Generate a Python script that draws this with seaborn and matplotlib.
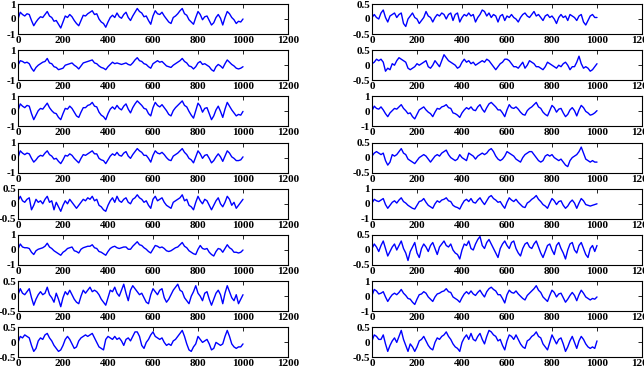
import numpy as np
import matplotlib
matplotlib.use('Agg')
import matplotlib.pyplot as plt
import seaborn as sns

# ── Data (one sample every 10 steps) ──────────────────────────────────────────
left_1 = [0.00, 0.45, 0.30, 0.20, 0.35, 0.30, -0.10, -0.45, -0.20, 0.00,
          0.15, 0.10, 0.30, 0.50, 0.20, 0.10, -0.15, -0.10, -0.35, -0.60,
          -0.20, 0.20, 0.10, 0.30, 0.15, -0.10, -0.30, -0.45, -0.10, 0.25,
          0.20, 0.35, 0.45, 0.55, 0.30, 0.35, 0.00, -0.20, -0.30, -0.55,
          -0.20, 0.10, 0.25, 0.10, 0.40, 0.15, 0.05, 0.30, 0.45, 0.10,
          -0.10, 0.20, 0.45, 0.70, 0.50, 0.40, 0.15, 0.20, -0.10, -0.35,
          0.20, 0.55, 0.35, 0.30, 0.45, 0.20, 0.00, -0.20, -0.30, 0.10,
          0.20, 0.35, 0.55, 0.70, 0.35, 0.25, -0.05, -0.20, -0.35, 0.10,
          0.50, 0.30, -0.05, 0.15, 0.20, -0.10, -0.40, -0.25, 0.10, 0.30,
          0.05, -0.40, 0.10, 0.50, 0.35, 0.10, -0.05, -0.30, -0.15, -0.20,
          0.00]
left_2 = [0.00, 0.30, 0.25, 0.15, 0.20, 0.10, -0.20, -0.40, -0.15, 0.00,
          0.10, 0.20, 0.25, 0.45, 0.15, 0.10, -0.10, -0.15, -0.30, -0.25,
          -0.20, 0.00, 0.05, 0.10, 0.15, 0.00, -0.10, -0.25, -0.05, 0.15,
          0.20, 0.25, 0.30, 0.35, 0.15, 0.10, -0.05, -0.15, -0.20, -0.30,
          -0.10, 0.05, 0.20, 0.10, 0.15, 0.10, 0.05, 0.10, 0.15, 0.05,
          0.00, 0.15, 0.35, 0.50, 0.30, 0.25, 0.10, 0.05, -0.10, -0.20,
          0.10, 0.20, 0.30, 0.20, 0.25, 0.10, -0.05, -0.10, -0.15, 0.00,
          0.10, 0.20, 0.30, 0.45, 0.25, 0.15, -0.05, -0.10, -0.25, -0.10,
          0.15, 0.25, 0.05, 0.10, 0.00, -0.10, -0.30, -0.40, -0.10, 0.05,
          -0.05, -0.20, 0.10, 0.35, 0.20, 0.05, -0.05, -0.20, -0.25, -0.20,
          -0.10]
left_3 = [0.05, 0.50, 0.35, 0.25, 0.40, 0.35, -0.15, -0.55, -0.25, 0.05,
          0.20, 0.15, 0.35, 0.55, 0.25, 0.05, -0.10, -0.15, -0.40, -0.55,
          -0.15, 0.20, 0.15, 0.35, 0.20, -0.05, -0.30, -0.40, -0.05, 0.25,
          0.25, 0.40, 0.45, 0.60, 0.35, 0.30, -0.05, -0.25, -0.35, -0.55,
          -0.15, 0.15, 0.30, 0.15, 0.40, 0.20, 0.10, 0.35, 0.50, 0.15,
          -0.10, 0.25, 0.50, 0.70, 0.55, 0.40, 0.20, 0.15, -0.15, -0.30,
          0.25, 0.60, 0.40, 0.30, 0.45, 0.25, 0.05, -0.20, -0.30, 0.05,
          0.25, 0.40, 0.55, 0.70, 0.40, 0.30, 0.00, -0.25, -0.45, 0.05,
          0.55, 0.35, -0.05, 0.20, 0.25, -0.15, -0.55, -0.30, 0.10, 0.35,
          0.00, -0.40, 0.15, 0.60, 0.35, 0.10, -0.10, -0.30, -0.20, -0.25,
          0.00]
left_4 = [0.00, 0.45, 0.30, 0.20, 0.30, 0.25, -0.05, -0.30, -0.15, 0.05,
          0.15, 0.10, 0.30, 0.45, 0.20, 0.10, -0.10, -0.05, -0.25, -0.40,
          -0.15, 0.15, 0.10, 0.25, 0.15, -0.05, -0.20, -0.35, -0.05, 0.20,
          0.15, 0.25, 0.35, 0.45, 0.25, 0.25, -0.05, -0.15, -0.20, -0.40,
          -0.15, 0.10, 0.25, 0.15, 0.35, 0.15, 0.10, 0.30, 0.40, 0.10,
          -0.05, 0.20, 0.40, 0.60, 0.45, 0.35, 0.15, 0.15, -0.05, -0.30,
          0.15, 0.45, 0.30, 0.25, 0.35, 0.20, 0.00, -0.15, -0.20, 0.10,
          0.20, 0.30, 0.45, 0.60, 0.35, 0.20, -0.05, -0.15, -0.35, 0.05,
          0.45, 0.25, -0.05, 0.15, 0.20, -0.05, -0.35, -0.20, 0.05, 0.25,
          0.05, -0.25, 0.10, 0.45, 0.30, 0.05, -0.05, -0.20, -0.20, -0.15,
          0.05]
left_5 = [0.10, 0.25, 0.10, 0.05, 0.15, 0.20, -0.20, -0.05, 0.15, 0.05,
          0.10, 0.00, 0.15, 0.25, 0.05, 0.10, -0.20, 0.05, -0.10, -0.25,
          -0.05, 0.10, 0.00, 0.15, 0.05, -0.05, -0.15, -0.05, 0.05, 0.15,
          0.10, 0.20, 0.15, 0.25, 0.10, 0.15, -0.05, -0.10, -0.20, -0.25,
          -0.05, 0.10, 0.20, 0.05, 0.25, 0.10, 0.05, 0.15, 0.20, 0.05,
          0.00, 0.15, 0.20, 0.30, 0.20, 0.15, 0.05, 0.10, -0.05, -0.15,
          0.15, 0.25, 0.10, 0.15, 0.20, 0.05, -0.05, -0.10, -0.15, 0.05,
          0.10, 0.15, 0.20, 0.30, 0.10, 0.15, -0.05, -0.10, -0.20, 0.05,
          0.25, 0.10, 0.00, 0.15, 0.10, -0.05, -0.20, -0.05, 0.10, 0.20,
          0.00, -0.10, 0.05, 0.25, 0.15, -0.05, 0.05, -0.15, -0.05, 0.05,
          0.15]
left_6 = [0.05, 0.40, 0.20, 0.15, 0.15, 0.10, -0.15, -0.30, -0.05, 0.05,
          0.10, 0.15, 0.25, 0.45, 0.20, 0.10, -0.05, -0.15, -0.25, -0.35,
          -0.15, -0.05, 0.10, 0.15, 0.20, -0.05, -0.10, -0.20, 0.05, 0.15,
          0.20, 0.25, 0.25, 0.35, 0.15, 0.10, -0.10, -0.15, -0.25, -0.35,
          -0.10, 0.10, 0.20, 0.25, 0.15, 0.10, 0.15, 0.20, 0.20, 0.05,
          0.05, 0.25, 0.40, 0.55, 0.35, 0.30, 0.15, 0.05, -0.10, -0.20,
          0.05, 0.30, 0.25, 0.15, 0.20, 0.10, -0.05, -0.10, -0.05, 0.05,
          0.15, 0.20, 0.35, 0.50, 0.25, 0.15, -0.05, -0.15, -0.25, -0.30,
          0.05, 0.30, 0.10, 0.05, 0.10, -0.15, -0.30, -0.40, -0.10, 0.10,
          0.05, -0.15, 0.10, 0.35, 0.15, 0.05, -0.15, -0.15, -0.20, -0.15,
          0.00]
left_7 = [0.05, 0.25, 0.10, 0.05, 0.15, 0.25, -0.05, -0.30, -0.10, 0.05,
          0.15, 0.05, 0.10, 0.30, 0.05, -0.05, -0.20, 0.10, -0.10, -0.35,
          -0.05, 0.15, 0.05, 0.20, 0.05, -0.10, -0.20, -0.25, 0.00, 0.20,
          0.10, 0.20, 0.30, 0.15, 0.20, 0.15, 0.05, -0.10, -0.20, -0.30,
          -0.05, 0.20, 0.15, 0.30, 0.10, 0.00, 0.20, 0.40, 0.10, -0.15,
          0.20, 0.35, 0.25, 0.15, 0.05, 0.10, -0.05, -0.20, -0.25, 0.05,
          0.25, 0.15, 0.05, 0.20, 0.25, -0.05, -0.20, -0.10, 0.05, 0.20,
          0.30, 0.40, 0.20, 0.15, -0.05, -0.15, -0.25, 0.00, 0.15, 0.35,
          0.10, 0.00, -0.15, 0.10, 0.15, -0.10, -0.30, -0.10, 0.10, 0.20,
          0.05, -0.25, 0.10, 0.35, 0.15, -0.05, -0.15, 0.05, -0.25, -0.10,
          0.05]
left_8 = [0.00, 0.20, 0.15, 0.25, 0.20, 0.15, -0.10, -0.30, -0.20, 0.05,
          0.15, 0.10, 0.25, 0.30, 0.15, 0.05, -0.10, -0.20, -0.30, -0.25,
          -0.10, 0.10, 0.20, 0.10, -0.05, -0.20, -0.15, 0.05, 0.15, 0.20,
          0.25, 0.20, 0.25, 0.30, 0.15, 0.00, -0.15, -0.20, -0.25, 0.10,
          0.20, 0.15, 0.10, 0.20, 0.10, 0.15, 0.05, -0.10, 0.10, 0.15,
          0.05, 0.20, 0.35, 0.35, 0.20, -0.10, -0.20, 0.00, 0.10, 0.25,
          0.35, 0.20, 0.15, 0.10, 0.15, 0.00, -0.10, -0.05, -0.10, 0.05,
          0.10, 0.20, 0.30, 0.40, 0.20, -0.05, -0.25, -0.30, -0.15, -0.05,
          0.20, 0.10, 0.00, 0.05, 0.10, -0.05, -0.25, -0.20, 0.00, -0.05,
          -0.10, -0.05, 0.20, 0.40, 0.20, -0.05, -0.15, -0.20, -0.15, -0.15,
          -0.05]

right_1 = [0.05, 0.15, 0.05, 0.00, 0.20, 0.30, 0.05, -0.10, 0.10, 0.15,
           0.20, 0.05, 0.15, 0.20, -0.15, -0.25, 0.00, 0.10, 0.20, 0.05,
           0.00, -0.15, -0.05, 0.05, 0.25, 0.10, 0.05, -0.10, 0.05, 0.15,
           0.10, 0.20, 0.15, 0.00, 0.15, 0.20, -0.05, 0.15, 0.20, -0.10,
           0.05, 0.15, 0.10, 0.20, 0.10, 0.15, -0.10, 0.05, 0.15, 0.30,
           0.25, 0.10, 0.20, 0.05, 0.15, 0.10, -0.10, 0.10, 0.15, -0.05,
           0.10, 0.05, 0.15, 0.05, 0.00, -0.10, 0.05, 0.15, 0.20, 0.10,
           0.05, 0.15, 0.25, 0.10, 0.15, 0.05, -0.05, 0.10, 0.15, 0.05,
           0.10, 0.00, -0.15, 0.05, 0.15, 0.05, 0.10, -0.05, 0.15, 0.10,
           0.05, -0.05, 0.10, 0.15, -0.10, -0.20, -0.05, 0.10, 0.15, 0.05,
           0.05]
right_2 = [0.05, 0.10, 0.20, 0.15, 0.20, 0.10, -0.20, -0.10, -0.15, 0.05,
           0.00, 0.15, 0.25, 0.20, 0.15, 0.10, -0.10, -0.15, -0.10, -0.05,
           0.05, 0.00, 0.05, 0.10, 0.15, -0.05, -0.10, 0.00, 0.15, 0.05,
           -0.05, 0.15, 0.35, 0.25, 0.15, 0.10, 0.05, 0.00, -0.10, -0.05,
           0.10, 0.20, 0.10, 0.15, 0.05, 0.10, 0.00, 0.05, 0.10, 0.15,
           0.10, 0.20, 0.15, 0.05, -0.05, -0.15, -0.05, 0.05, 0.10, 0.20,
           0.20, 0.15, 0.05, -0.05, -0.05, -0.10, 0.00, 0.10, -0.10, 0.00,
           0.15, 0.10, 0.05, -0.05, -0.05, -0.10, -0.15, -0.05, 0.10, 0.05,
           0.00, -0.05, -0.10, 0.00, -0.05, 0.05, 0.10, 0.00, -0.15, -0.05,
           -0.05, 0.10, 0.30, 0.05, -0.10, -0.05, -0.10, -0.20, -0.15, -0.05,
           0.05]
right_3 = [0.05, 0.35, 0.20, 0.15, 0.30, 0.10, -0.15, -0.35, -0.10, 0.05,
           0.20, 0.15, 0.30, 0.45, 0.20, 0.05, -0.15, -0.10, -0.35, -0.50,
           -0.20, 0.10, 0.20, 0.30, 0.10, -0.05, -0.15, -0.35, -0.05, 0.20,
           0.15, 0.30, 0.35, 0.45, 0.25, 0.20, -0.10, -0.15, -0.25, -0.40,
           -0.10, 0.10, 0.25, 0.15, 0.30, 0.10, 0.05, 0.30, 0.45, 0.15,
           -0.05, 0.25, 0.50, 0.60, 0.45, 0.30, 0.10, 0.10, -0.10, -0.35,
           0.10, 0.45, 0.25, 0.20, 0.30, 0.15, -0.05, -0.20, -0.25, 0.05,
           0.20, 0.30, 0.45, 0.60, 0.30, 0.20, -0.05, -0.20, -0.30, 0.05,
           0.40, 0.25, -0.05, 0.15, 0.20, -0.10, -0.35, -0.20, 0.10, 0.25,
           0.05, -0.30, 0.10, 0.40, 0.25, 0.00, -0.10, -0.25, -0.20, -0.10,
           0.05]
right_4 = [0.05, 0.15, 0.20, 0.15, 0.10, 0.15, -0.10, -0.25, -0.15, 0.10,
           0.05, 0.10, 0.20, 0.30, 0.15, 0.10, -0.05, -0.10, -0.15, -0.20,
           -0.10, 0.00, 0.05, 0.10, 0.05, -0.05, -0.15, -0.05, 0.05, 0.10,
           0.05, 0.15, 0.20, 0.25, 0.10, 0.00, -0.05, -0.10, -0.05, 0.10,
           0.00, -0.05, -0.10, 0.15, 0.10, 0.05, -0.05, 0.05, 0.10, 0.15,
           0.10, 0.15, 0.25, 0.30, 0.20, 0.05, -0.05, -0.10, -0.05, 0.05,
           0.20, 0.15, 0.10, 0.05, -0.05, -0.10, -0.15, 0.00, 0.10, 0.15,
           0.20, 0.20, 0.10, 0.00, -0.10, -0.15, -0.10, 0.05, 0.10, 0.05,
           0.10, 0.00, -0.05, -0.10, -0.05, -0.15, -0.25, -0.30, -0.10, 0.00,
           0.05, 0.10, 0.20, 0.35, 0.15, -0.05, -0.10, -0.15, -0.10, -0.15,
           -0.15]
right_5 = [0.05, 0.30, 0.20, 0.15, 0.25, 0.35, -0.05, -0.30, -0.10, 0.10,
           0.20, 0.05, 0.25, 0.40, 0.15, 0.05, -0.10, -0.20, -0.30, -0.35,
           -0.10, 0.15, 0.20, 0.35, 0.10, -0.10, -0.20, -0.30, 0.00, 0.20,
           0.10, 0.25, 0.30, 0.40, 0.20, 0.15, -0.10, -0.20, -0.25, -0.35,
           -0.05, 0.20, 0.30, 0.15, 0.35, 0.10, 0.05, 0.25, 0.40, 0.15,
           -0.05, 0.20, 0.45, 0.55, 0.35, 0.25, 0.10, 0.15, -0.10, -0.30,
           0.10, 0.40, 0.25, 0.15, 0.30, 0.10, -0.05, -0.20, -0.25, 0.05,
           0.15, 0.30, 0.40, 0.55, 0.30, 0.15, -0.05, -0.15, -0.30, 0.05,
           0.35, 0.20, -0.05, 0.15, 0.20, -0.10, -0.30, -0.15, 0.10, 0.25,
           0.05, -0.30, 0.05, 0.35, 0.20, -0.05, -0.10, -0.15, -0.10, -0.05,
           0.00]
right_6 = [0.05, 0.20, 0.10, -0.05, 0.15, 0.30, 0.05, -0.20, -0.05, 0.10,
           0.20, 0.00, 0.15, 0.30, 0.05, -0.10, -0.35, -0.05, 0.10, 0.25,
           -0.10, -0.25, 0.05, 0.20, 0.10, -0.05, 0.15, 0.25, 0.05, -0.15,
           0.10, 0.20, 0.30, 0.15, 0.10, 0.20, 0.00, -0.10, -0.15, -0.30,
           0.00, 0.20, 0.15, 0.30, 0.05, 0.00, 0.20, 0.35, 0.45, 0.15,
           0.05, 0.25, 0.35, 0.20, 0.05, -0.10, -0.25, 0.05, 0.20, 0.30,
           0.15, 0.05, 0.25, 0.30, 0.05, -0.10, -0.20, 0.05, 0.20, 0.25,
           0.10, 0.05, 0.20, 0.30, 0.10, -0.10, -0.25, -0.05, 0.15, 0.20,
           0.00, -0.15, 0.15, 0.25, 0.05, -0.10, -0.30, 0.00, 0.20, 0.25,
           0.00, -0.10, 0.15, 0.25, 0.05, -0.15, -0.25, 0.05, 0.15, -0.05,
           0.15]
right_7 = [0.05, 0.45, 0.35, 0.15, 0.20, 0.30, -0.05, -0.35, -0.10, 0.10,
           0.20, 0.10, 0.25, 0.45, 0.20, 0.05, -0.15, -0.20, -0.40, -0.55,
           -0.20, 0.10, 0.15, 0.30, 0.20, -0.05, -0.20, -0.35, -0.05, 0.15,
           0.20, 0.30, 0.35, 0.50, 0.30, 0.25, -0.05, -0.15, -0.25, -0.40,
           -0.10, 0.15, 0.30, 0.15, 0.35, 0.15, 0.05, 0.25, 0.40, 0.15,
           -0.05, 0.30, 0.50, 0.60, 0.45, 0.35, 0.10, 0.10, -0.15, -0.45,
           0.10, 0.40, 0.25, 0.20, 0.35, 0.15, 0.00, -0.15, -0.25, 0.05,
           0.20, 0.35, 0.50, 0.70, 0.40, 0.25, -0.05, -0.20, -0.35, 0.05,
           0.40, 0.25, -0.05, 0.15, 0.20, -0.10, -0.40, -0.20, 0.05, 0.25,
           0.05, -0.30, 0.10, 0.40, 0.20, -0.05, -0.15, -0.25, -0.15, -0.20,
           -0.05]
right_8 = [0.05, 0.25, 0.20, 0.10, 0.10, 0.25, -0.05, -0.30, -0.10, 0.05,
           0.15, 0.00, 0.20, 0.40, 0.10, -0.10, -0.30, -0.05, -0.15, -0.30,
           -0.15, 0.05, 0.10, 0.20, 0.05, -0.10, -0.20, -0.25, 0.00, 0.15,
           0.10, 0.20, 0.25, 0.35, 0.20, 0.10, -0.05, -0.15, -0.20, -0.30,
           0.00, 0.15, 0.25, 0.10, 0.30, 0.10, 0.05, 0.20, 0.30, 0.10,
           -0.05, 0.20, 0.40, 0.35, 0.25, 0.20, 0.05, 0.10, -0.10, -0.25,
           0.05, 0.25, 0.20, 0.10, 0.25, 0.10, -0.05, -0.15, -0.20, 0.05,
           0.10, 0.20, 0.25, 0.35, 0.20, 0.15, -0.05, -0.15, -0.25, 0.00,
           0.25, 0.10, -0.05, 0.10, 0.15, -0.05, -0.30, -0.15, 0.05, 0.20,
           0.00, -0.20, 0.05, 0.20, 0.10, -0.05, -0.15, -0.20, -0.15, -0.20,
           0.05]

left_series  = [left_1, left_2, left_3, left_4, left_5, left_6, left_7, left_8]
right_series = [right_1, right_2, right_3, right_4, right_5, right_6, right_7, right_8]
left_limits  = [1, 1, 1, 1, 0.5, 1, 0.5, 0.5]
right_limits = [0.5, 0.5, 1, 0.5, 1, 0.5, 1, 0.5]
x_ticks = [0, 200, 400, 600, 800, 1000, 1200]
n_steps = 1000

# ── Style ─────────────────────────────────────────────────────────────────────
sns.set_style('white')
plt.rcParams['font.family'] = ['Liberation Serif', 'DejaVu Serif']
plt.rcParams['font.weight'] = 'bold'
plt.rcParams['axes.unicode_minus'] = False

# ── Layout (pixels of a 644x374 canvas) ───────────────────────────────────────
W, H = 644, 374
col_left = [18, 372]
ax_w, ax_h = 270, 30
row_pitch = 46.2
row_top0 = 4

fig = plt.figure(figsize=(W / 100, H / 100), dpi=100)


def draw_panel(values, lim, left_px, top_px):
    ax = fig.add_axes([left_px / W, 1 - (top_px + ax_h) / H, ax_w / W, ax_h / H])
    xs = np.linspace(0, n_steps, len(values))
    sns.lineplot(x=xs, y=values, ax=ax, color='#0000ff', linewidth=1.0)
    ax.set_xlim(0, 1200)
    ax.set_ylim(-lim, lim)
    ax.set_xticks(x_ticks)
    ax.set_yticks([-lim, 0, lim])
    ax.set_yticklabels(['%g' % v for v in [-lim, 0, lim]])
    ax.tick_params(direction='in', length=3, width=0.6, top=True, right=True,
                   labelsize=8, pad=1.5, colors='black')
    for s in ax.spines.values():
        s.set_linewidth(0.8)
        s.set_color('black')
    for lbl in ax.get_xticklabels() + ax.get_yticklabels():
        lbl.set_fontweight('bold')
    return ax


for i in range(8):
    top = row_top0 + row_pitch * i
    draw_panel(left_series[i], left_limits[i], col_left[0], top)
    draw_panel(right_series[i], right_limits[i], col_left[1], top)

fig.savefig('out.png', dpi=100)
